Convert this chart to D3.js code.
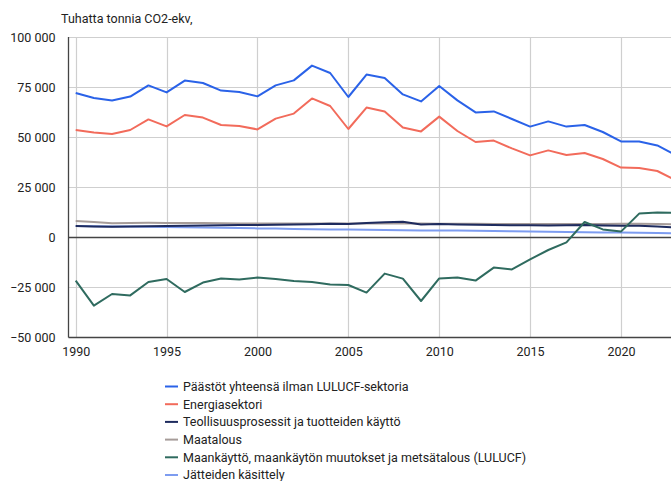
<!DOCTYPE html>
<html><head><meta charset="utf-8">
<script src="https://cdn.jsdelivr.net/npm/d3@7"></script>
<style>
html,body{margin:0;padding:0;background:#fff;}
svg{display:block;font-family:Roboto,"Noto Sans",sans-serif;}
</style></head>
<body><svg id="c" width="671" height="481"></svg>
<script>
const years = d3.range(1990, 2024);
const seriesNames = [
  "Päästöt yhteensä ilman LULUCF-sektoria",
  "Energiasektori",
  "Teollisuusprosessit ja tuotteiden käyttö",
  "Maatalous",
  "Maankäyttö, maankäytön muutokset ja metsätalous (LULUCF)",
  "Jätteiden käsittely"
];
const seriesColors = ["#2a62e8", "#f26b5b", "#1e2b5e", "#a69c99", "#2f6b5f", "#7d9cf0"];
const totalValues = [72000,69500,68200,70200,75800,72300,78200,77000,73200,72500,70300,75800,78300,85700,82000,70000,81200,79500,71300,67800,75500,68300,62300,62800,59000,55200,57800,55200,56000,52500,47800,47800,45800,41000];
const energyValues = [53500,52200,51500,53500,58800,55300,61000,59700,56000,55500,53800,59200,61700,69300,65500,54000,64700,62800,54700,52800,60200,53000,47500,48200,44300,40800,43300,41000,42000,39000,34700,34500,33000,28500];
const industryValues = [5500,5200,5100,5200,5400,5500,5600,5800,5900,6000,6000,6100,6200,6400,6600,6500,7000,7400,7600,6200,6500,6300,6100,6000,5900,5900,5800,5900,6000,5800,5600,5600,5200,4800];
const agricultureValues = [8000,7500,6900,7000,7100,7000,7000,7000,6900,6800,6800,6700,6700,6700,6700,6700,6700,6700,6700,6700,6600,6600,6600,6500,6500,6500,6500,6500,6500,6500,6600,6600,6500,6400];
const lulucfValues = [-21800,-34300,-28500,-29200,-22500,-21000,-27500,-22800,-20800,-21200,-20300,-21000,-22000,-22500,-23700,-24000,-27800,-18300,-20800,-32000,-20700,-20200,-21800,-15300,-16200,-11200,-6500,-2700,7500,3800,2700,11700,12300,12000];
const wasteValues = [5500,5400,5300,5200,5100,5000,4900,4800,4600,4500,4300,4200,4000,3900,3800,3700,3600,3500,3400,3300,3300,3200,3100,3000,2900,2700,2600,2500,2400,2300,2200,2100,2000,1800];
const yTicks = [-50000,-25000,0,25000,50000,75000,100000];
const xTicks = [1990,1995,2000,2005,2010,2015,2020];
const title = "Tuhatta tonnia CO2-ekv,";

const seriesValues = [totalValues, energyValues, industryValues, agricultureValues, lulucfValues, wasteValues];
const drawOrder = [5, 3, 2, 1, 0, 4];

const svg = d3.select("#c");
const x = d3.scaleLinear().domain([1990, 2023]).range([75.7, 675.5]);
const y = d3.scaleLinear().domain([-50000, 100000]).range([337, 37]);
const left = 68.5, right = 671;
const fmt = v => (v < 0 ? "\u2212" : "") + d3.format(",")(Math.abs(v)).replace(/,/g, " ");

// horizontal grid
svg.append("g").selectAll("line").data(yTicks.filter(v => v !== 0 && v !== -50000)).join("line")
  .attr("x1", left).attr("x2", right)
  .attr("y1", d => Math.round(y(d)) + 0.5).attr("y2", d => Math.round(y(d)) + 0.5)
  .attr("stroke", "#cfcfcf").attr("stroke-width", 1.2);
// vertical grid
svg.append("g").selectAll("line").data(xTicks).join("line")
  .attr("x1", d => Math.round(x(d)) + 0.5).attr("x2", d => Math.round(x(d)) + 0.5)
  .attr("y1", y(100000)).attr("y2", y(-50000))
  .attr("stroke", "#cfcfcf").attr("stroke-width", 1.2);

// y axis labels
const yAxis = d3.axisLeft(y).tickValues(yTicks).tickFormat(fmt).tickSize(0).tickPadding(13);
const gy = svg.append("g").attr("transform", `translate(${left},0)`).call(yAxis);
gy.select(".domain").remove();
gy.selectAll("text").attr("font-size", 12.5).attr("fill", "#222").attr("font-family", "Roboto");

// x axis labels
const xAxis = d3.axisBottom(x).tickValues(xTicks).tickFormat(d3.format("d")).tickSize(0).tickPadding(10);
const gx = svg.append("g").attr("transform", `translate(0,${y(-50000)})`).call(xAxis);
gx.select(".domain").remove();
gx.selectAll("text").attr("font-size", 12.5).attr("fill", "#222").attr("font-family", "Roboto");

// axis lines
svg.append("line").attr("x1", left).attr("x2", left).attr("y1", y(100000)).attr("y2", y(-50000) + 0.5)
  .attr("stroke", "#444").attr("stroke-width", 1.3);
svg.append("line").attr("x1", left).attr("x2", right).attr("y1", Math.round(y(-50000)) + 0.5).attr("y2", Math.round(y(-50000)) + 0.5)
  .attr("stroke", "#444").attr("stroke-width", 1.3);
svg.append("line").attr("x1", left).attr("x2", right).attr("y1", Math.round(y(0)) + 0.5).attr("y2", Math.round(y(0)) + 0.5)
  .attr("stroke", "#444").attr("stroke-width", 1.3);

// lines
const line = d3.line().x((d, i) => x(years[i])).y(d => y(d));
svg.append("g").selectAll("path").data(drawOrder).join("path")
  .attr("d", k => line(seriesValues[k]))
  .attr("fill", "none").attr("stroke", k => seriesColors[k]).attr("stroke-width", 2)
  .attr("stroke-linejoin", "round");

// title
svg.append("text").attr("x", 61).attr("y", 23).attr("font-size", 12.5).attr("fill", "#222").text(title);

// legend
const lg = svg.append("g").attr("transform", "translate(165,386.5)");
const items = lg.selectAll("g").data(seriesNames).join("g").attr("transform", (d, i) => `translate(0,${i * 17.7})`);
items.append("line").attr("x1", 0).attr("x2", 13).attr("y1", 0).attr("y2", 0)
  .attr("stroke", (d, i) => seriesColors[i]).attr("stroke-width", 2);
items.append("text").attr("x", 18).attr("y", 0).attr("dy", "0.35em").attr("font-size", 12.5).attr("fill", "#222").text(d => d);
</script></body></html>
